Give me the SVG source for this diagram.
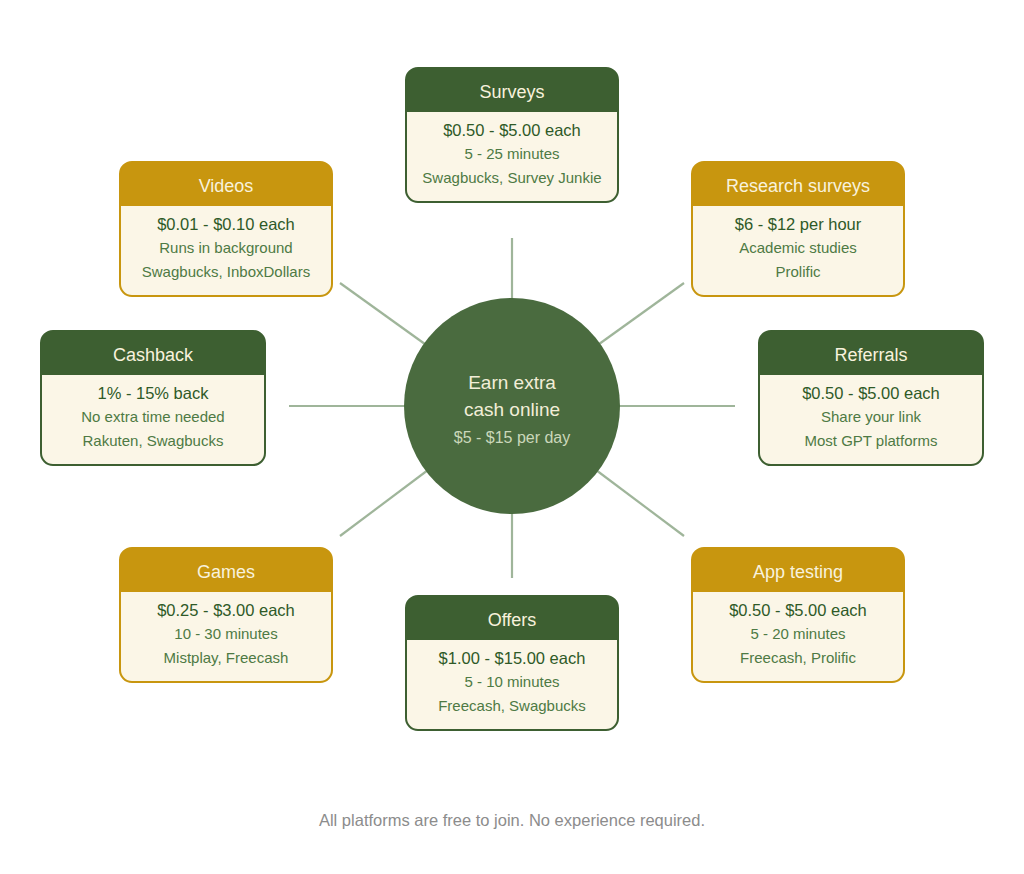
<svg xmlns="http://www.w3.org/2000/svg" width="1024" height="874" viewBox="0 0 1024 874">
<style>
text{font-family:"Liberation Sans",Arial,sans-serif;text-anchor:middle}
.body{fill:#fbf6e7}
.g .hdr{fill:#3d5f31}
.g .out{fill:none;stroke:#3d5f31;stroke-width:2}
.y .hdr{fill:#c8960f}
.y .out{fill:none;stroke:#c8960f;stroke-width:2}
.t{font-size:18px;fill:#f8f2dd}
.l1{font-size:16.5px;fill:#2f5a27}
.l2{font-size:15px;fill:#4e7a44}
.spoke{stroke:#9fb59a;stroke-width:2.2;fill:none}
</style>
<rect width="1024" height="874" fill="#ffffff"/>
<g id="connectors">
<line class="spoke" x1="512" y1="238" x2="512" y2="330"/>
<line class="spoke" x1="512" y1="578" x2="512" y2="480"/>
<line class="spoke" x1="289" y1="406" x2="420" y2="406"/>
<line class="spoke" x1="735" y1="406" x2="604" y2="406"/>
<line class="spoke" x1="340" y1="283" x2="436" y2="352"/>
<line class="spoke" x1="684" y1="283" x2="588" y2="352"/>
<line class="spoke" x1="340" y1="536" x2="436" y2="464"/>
<line class="spoke" x1="684" y1="536" x2="588" y2="464"/>
</g>
<g id="center">
<circle cx="512" cy="406" r="108" fill="#4a6b3f"/>
<text x="512" y="389" style="font-size:19px;fill:#f2eed8">Earn extra</text>
<text x="512" y="416" style="font-size:19px;fill:#f2eed8">cash online</text>
<text x="512" y="443" style="font-size:16px;fill:#cbd8bb">$5 - $15 per day</text>
</g>
<g id="surveys" class="g" transform="translate(406,68)">
<rect class="body" width="212" height="134" rx="12"/>
<path class="hdr" d="M0,44V12A12,12 0 0 1 12,0H200A12,12 0 0 1 212,12V44Z"/>
<rect class="out" width="212" height="134" rx="12"/>
<text class="t" x="106" y="30">Surveys</text>
<text class="l1" x="106" y="68">$0.50 - $5.00 each</text>
<text class="l2" x="106" y="91">5 - 25 minutes</text>
<text class="l2" x="106" y="115">Swagbucks, Survey Junkie</text>
</g>
<g id="videos" class="y" transform="translate(120,162)">
<rect class="body" width="212" height="134" rx="12"/>
<path class="hdr" d="M0,44V12A12,12 0 0 1 12,0H200A12,12 0 0 1 212,12V44Z"/>
<rect class="out" width="212" height="134" rx="12"/>
<text class="t" x="106" y="30">Videos</text>
<text class="l1" x="106" y="68">$0.01 - $0.10 each</text>
<text class="l2" x="106" y="91">Runs in background</text>
<text class="l2" x="106" y="115">Swagbucks, InboxDollars</text>
</g>
<g id="research" class="y" transform="translate(692,162)">
<rect class="body" width="212" height="134" rx="12"/>
<path class="hdr" d="M0,44V12A12,12 0 0 1 12,0H200A12,12 0 0 1 212,12V44Z"/>
<rect class="out" width="212" height="134" rx="12"/>
<text class="t" x="106" y="30">Research surveys</text>
<text class="l1" x="106" y="68">$6 - $12 per hour</text>
<text class="l2" x="106" y="91">Academic studies</text>
<text class="l2" x="106" y="115">Prolific</text>
</g>
<g id="cashback" class="g" transform="translate(41,331)">
<rect class="body" width="224" height="134" rx="12"/>
<path class="hdr" d="M0,44V12A12,12 0 0 1 12,0H212A12,12 0 0 1 224,12V44Z"/>
<rect class="out" width="224" height="134" rx="12"/>
<text class="t" x="112" y="30">Cashback</text>
<text class="l1" x="112" y="68">1% - 15% back</text>
<text class="l2" x="112" y="91">No extra time needed</text>
<text class="l2" x="112" y="115">Rakuten, Swagbucks</text>
</g>
<g id="referrals" class="g" transform="translate(759,331)">
<rect class="body" width="224" height="134" rx="12"/>
<path class="hdr" d="M0,44V12A12,12 0 0 1 12,0H212A12,12 0 0 1 224,12V44Z"/>
<rect class="out" width="224" height="134" rx="12"/>
<text class="t" x="112" y="30">Referrals</text>
<text class="l1" x="112" y="68">$0.50 - $5.00 each</text>
<text class="l2" x="112" y="91">Share your link</text>
<text class="l2" x="112" y="115">Most GPT platforms</text>
</g>
<g id="games" class="y" transform="translate(120,548)">
<rect class="body" width="212" height="134" rx="12"/>
<path class="hdr" d="M0,44V12A12,12 0 0 1 12,0H200A12,12 0 0 1 212,12V44Z"/>
<rect class="out" width="212" height="134" rx="12"/>
<text class="t" x="106" y="30">Games</text>
<text class="l1" x="106" y="68">$0.25 - $3.00 each</text>
<text class="l2" x="106" y="91">10 - 30 minutes</text>
<text class="l2" x="106" y="115">Mistplay, Freecash</text>
</g>
<g id="apptesting" class="y" transform="translate(692,548)">
<rect class="body" width="212" height="134" rx="12"/>
<path class="hdr" d="M0,44V12A12,12 0 0 1 12,0H200A12,12 0 0 1 212,12V44Z"/>
<rect class="out" width="212" height="134" rx="12"/>
<text class="t" x="106" y="30">App testing</text>
<text class="l1" x="106" y="68">$0.50 - $5.00 each</text>
<text class="l2" x="106" y="91">5 - 20 minutes</text>
<text class="l2" x="106" y="115">Freecash, Prolific</text>
</g>
<g id="offers" class="g" transform="translate(406,596)">
<rect class="body" width="212" height="134" rx="12"/>
<path class="hdr" d="M0,44V12A12,12 0 0 1 12,0H200A12,12 0 0 1 212,12V44Z"/>
<rect class="out" width="212" height="134" rx="12"/>
<text class="t" x="106" y="30">Offers</text>
<text class="l1" x="106" y="68">$1.00 - $15.00 each</text>
<text class="l2" x="106" y="91">5 - 10 minutes</text>
<text class="l2" x="106" y="115">Freecash, Swagbucks</text>
</g>
<g id="footer">
<text x="512" y="826" style="font-size:16.5px;fill:#8c8c8c">All platforms are free to join. No experience required.</text>
</g>
</svg>
